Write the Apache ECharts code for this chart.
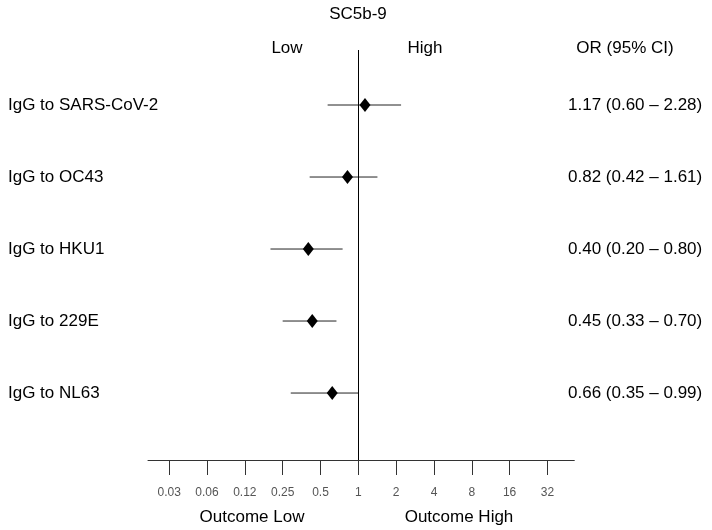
<!DOCTYPE html>
<html>
<head>
<meta charset="utf-8">
<script src="https://cdn.jsdelivr.net/npm/echarts@6/dist/echarts.min.js"></script>
<style>html,body{margin:0;padding:0;background:#fff}#c{width:712px;height:530px}</style>
</head>
<body>
<div id="c"></div>
<script>
// ---- data ----
var categories = ['IgG to SARS-CoV-2', 'IgG to OC43', 'IgG to HKU1', 'IgG to 229E', 'IgG to NL63'];
var orValues   = [1.13, 0.82, 0.40, 0.43, 0.62];
var ciLow      = [0.57, 0.41, 0.20, 0.25, 0.29];
var ciHigh     = [2.19, 1.42, 0.75, 0.67, 1.00];
var ciText     = ['1.17 (0.60 \u2013 2.28)', '0.82 (0.42 \u2013 1.61)', '0.40 (0.20 \u2013 0.80)', '0.45 (0.33 \u2013 0.70)', '0.66 (0.35 \u2013 0.99)'];
var tickLabels = ['0.03', '0.06', '0.12', '0.25', '0.5', '1', '2', '4', '8', '16', '32'];
var tickExp    = [-5, -4, -3, -2, -1, 0, 1, 2, 3, 4, 5];

var FONT = '"Liberation Sans", Arial, sans-serif';
var chart = echarts.init(document.getElementById('c'));

var rows = categories.map(function (c, i) {
  return [Math.log2(ciLow[i]), Math.log2(orValues[i]), Math.log2(ciHigh[i]), i];
});

var option = {
  animation: false,
  backgroundColor: '#fff',
  grid: { left: 148, right: 137.7, top: 50, bottom: 70 },
  xAxis: {
    type: 'value', min: -5.56, max: 5.71,
    axisLine: { show: true, onZero: false, lineStyle: { color: '#333', width: 1 } },
    axisTick: { show: true, length: 15, customValues: tickExp, lineStyle: { color: '#333' } },
    axisLabel: {
      customValues: tickExp, margin: 27, color: '#555', fontSize: 12, fontFamily: FONT,
      formatter: function (v) { var k = tickExp.indexOf(Math.round(v)); return k >= 0 ? tickLabels[k] : ''; }
    },
    splitLine: { show: false }
  },
  yAxis: {
    type: 'value', inverse: true, min: -0.764, max: 4.93,
    axisLine: { show: false, onZero: false }, axisTick: { show: false }, splitLine: { show: false },
    axisLabel: {
      customValues: [0, 1, 2, 3, 4], align: 'left', margin: 140, color: '#000', fontSize: 17, fontFamily: FONT,
      formatter: function (v) { return categories[Math.round(v)] || ''; }
    }
  },
  series: [{
    type: 'custom',
    data: rows,
    encode: { x: [0, 1, 2], y: 3 },
    renderItem: function (params, api) {
      var y = api.value(3);
      var lo = api.coord([api.value(0), y]);
      var mid = api.coord([api.value(1), y]);
      var hi = api.coord([api.value(2), y]);
      return {
        type: 'group',
        children: [
          { type: 'line', shape: { x1: lo[0], y1: lo[1], x2: hi[0], y2: hi[1] }, style: { stroke: '#222', lineWidth: 1 } },
          { type: 'polygon', shape: { points: [[mid[0], mid[1] - 7], [mid[0] + 5.5, mid[1]], [mid[0], mid[1] + 7], [mid[0] - 5.5, mid[1]]] }, style: { fill: '#000' } }
        ]
      };
    },
    markLine: {
      silent: true, symbol: 'none', label: { show: false },
      lineStyle: { color: '#000', width: 1, type: 'solid' },
      data: [{ xAxis: 0 }]
    },
    z: 3
  }]
};
chart.setOption(option);

var g = [];
var txt = function (text, x, y, align, size, color) {
  return { type: 'text', x: x, y: y, style: { text: text, align: align, verticalAlign: 'middle', fontSize: size, fontFamily: FONT, fill: color || '#000' } };
};
g.push(txt('SC5b-9', 358, 14, 'center', 17));
g.push(txt('Low', 287, 48, 'center', 17));
g.push(txt('High', 425, 48, 'center', 17));
g.push(txt('OR (95% CI)', 625, 48, 'center', 17));
g.push(txt('Outcome Low', 252, 517, 'center', 17));
g.push(txt('Outcome High', 459, 517, 'center', 17));
ciText.forEach(function (t, i) {
  var p = chart.convertToPixel({ gridIndex: 0 }, [0, i]);
  g.push(txt(t, 568, p[1], 'left', 17));
});
chart.setOption({ graphic: g });
</script>
</body>
</html>
